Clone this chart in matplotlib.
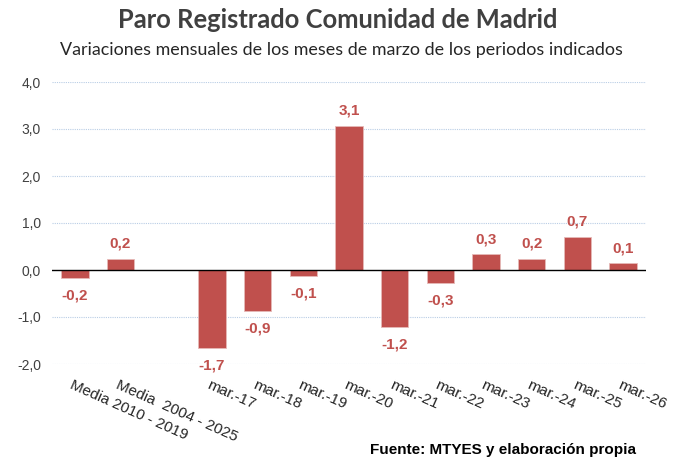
import matplotlib
matplotlib.use("Agg")
import matplotlib.pyplot as plt
import numpy as np

categories = ["Media 2010 - 2019", "Media  2004 - 2025", "", "mar.-17", "mar.-18", "mar.-19",
              "mar.-20", "mar.-21", "mar.-22", "mar.-23", "mar.-24", "mar.-25", "mar.-26"]
values = [-0.18, 0.23, None, -1.66, -0.88, -0.13, 3.07, -1.22, -0.28, 0.33, 0.24, 0.71, 0.14]
yticks = [-2.0, -1.0, 0.0, 1.0, 2.0, 3.0, 4.0]

bar_color = "#c0504d"
fig = plt.figure(figsize=(6.85, 4.59), dpi=100)
ax = fig.add_axes([52/685, 1-364/459, (646-52)/685, (364-82)/459])

x = np.arange(len(categories))
for xi, v in zip(x, values):
    if v is None:
        continue
    ax.bar(xi, v, width=0.6, color=bar_color, edgecolor="#e6b9b8", linewidth=0.6, zorder=3)
    lab = f"{v:.1f}".replace(".", ",")
    if v >= 0:
        ax.annotate(lab, (xi, v), xytext=(0, 6), textcoords="offset points", ha="center", va="bottom",
                    fontsize=11, fontweight="bold", color=bar_color, family="Liberation Sans")
    else:
        ax.annotate(lab, (xi, v), xytext=(0, -7.5), textcoords="offset points", ha="center", va="top",
                    fontsize=11, fontweight="bold", color=bar_color, family="Liberation Sans")

ax.set_xlim(-0.5, len(categories) - 0.5)
ax.set_ylim(-2.0, 4.0)
ax.set_yticks(yticks)
ax.set_yticklabels([f"{t:.1f}".replace(".", ",") for t in yticks], fontsize=10,
                   family="Liberation Sans", color="#404040")
for t in yticks:
    if t != 0:
        ax.axhline(t, color="#b9cde5", linestyle=(0, (1, 1)), linewidth=0.8, zorder=1)
ax.axhline(0, color="black", linewidth=1.0, zorder=4)
for s in ax.spines.values():
    s.set_visible(False)
ax.tick_params(axis="both", length=0, pad=8)
ax.set_xticks(x)
ax.set_xticklabels([])
for xi, c in zip(x, categories):
    ax.annotate(c, (xi, -2.0), xytext=(-1, -10), textcoords="offset points",
                rotation=-24, rotation_mode="anchor",
                ha="left", va="top", fontsize=11, family="Liberation Sans", color="#262626",
                annotation_clip=False)

fig.text(338/685, 1-20/459, "Paro Registrado Comunidad de Madrid", ha="center", va="center",
         fontsize=18.4, fontweight="bold", family="Lato", color="#404040")
fig.text(341/685, 1-50/459, "Variaciones mensuales de los meses de marzo de los periodos indicados",
         ha="center", va="center", fontsize=12.9, family="Lato", color="#262626")
fig.text(636/685, 1-450/459, "Fuente: MTYES y elaboración propia", ha="right", va="center",
         fontsize=11, fontweight="bold", family="Liberation Sans", color="black")

fig.savefig("out.png", dpi=100)
